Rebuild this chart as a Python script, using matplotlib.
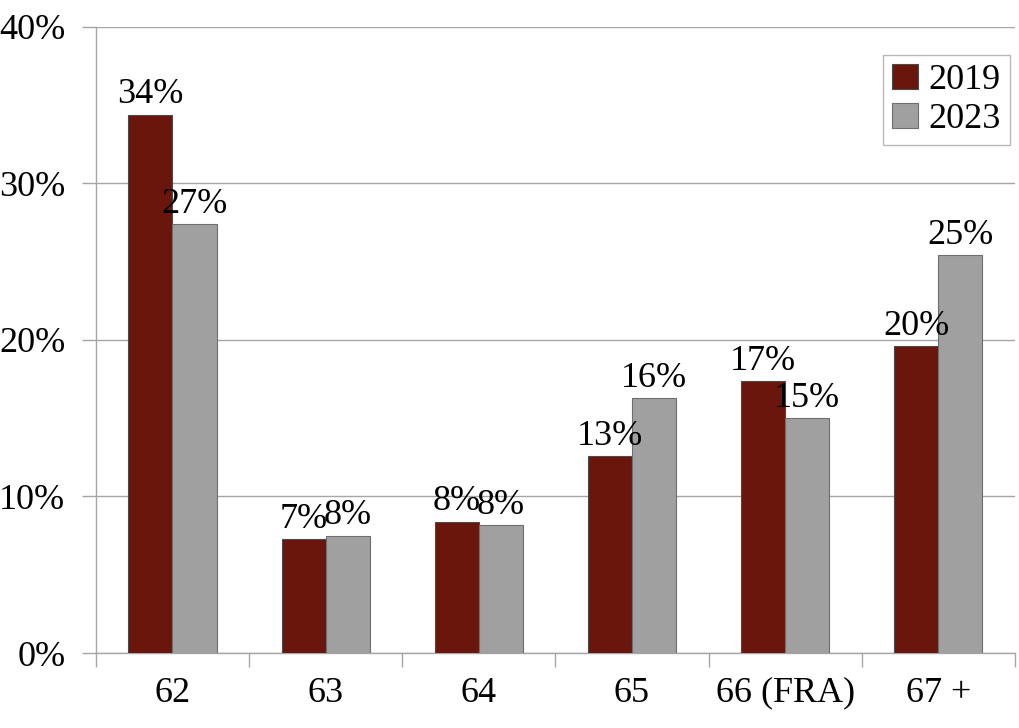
import numpy as np
import matplotlib.pyplot as plt

categories = ['62', '63', '64', '65', '66 (FRA)', '67 +']
share_2019 = [34.4, 7.3, 8.4, 12.6, 17.4, 19.6]
share_2023 = [27.4, 7.5, 8.2, 16.3, 15.0, 25.4]
y_ticks = [0, 10, 20, 30, 40]

plt.rcParams['font.family'] = ['Liberation Serif', 'DejaVu Serif']

fig = plt.figure(figsize=(10.2, 7.28), dpi=100)
ax = fig.add_axes([0.094, 0.103, 0.901, 0.860])

x = np.arange(len(categories))
w = 0.288
bars1 = ax.bar(x - w / 2, share_2019, w, color='#6b160c', edgecolor='#4a4a4a',
               linewidth=0.8, label='2019', zorder=3)
bars2 = ax.bar(x + w / 2, share_2023, w, color='#a0a0a0', edgecolor='#6e6e6e',
               linewidth=0.8, label='2023', zorder=3)

for bars in (bars1, bars2):
    for b in bars:
        h = b.get_height()
        ax.text(b.get_x() + b.get_width() / 2, h + 0.2, '{:.0f}%'.format(h),
                ha='center', va='bottom', fontsize=26)

ax.set_xlim(-0.5, len(categories) - 0.5)
ax.set_ylim(0, 40)
ax.set_yticks(y_ticks)
ax.set_yticklabels(['{}%'.format(v) for v in y_ticks])
ax.yaxis.grid(True, color='#a6a6a6', linewidth=1, zorder=0)

ax.set_xticks(x)
ax.set_xticklabels(categories)
ax.set_xticks(np.arange(len(categories) + 1) - 0.5, minor=True)
ax.tick_params(axis='x', which='major', length=0, pad=17, labelsize=26)
ax.tick_params(axis='x', which='minor', length=10, color='#a6a6a6', width=1)
ax.tick_params(axis='y', length=10, color='#a6a6a6', width=1, pad=12, labelsize=26)

for s in ['top', 'right']:
    ax.spines[s].set_visible(False)
for s in ['left', 'bottom']:
    ax.spines[s].set_color('#a6a6a6')
    ax.spines[s].set_linewidth(1)

leg = ax.legend(loc='upper right', bbox_to_anchor=(0.9945, 0.955), fontsize=26,
                frameon=True, fancybox=False, edgecolor='#a6a6a6',
                handlelength=0.7, handleheight=0.7, handletextpad=0.3,
                borderpad=0.25, labelspacing=0.15, borderaxespad=0)
leg.get_frame().set_linewidth(1)

fig.savefig('out.png', dpi=100, facecolor='white')
